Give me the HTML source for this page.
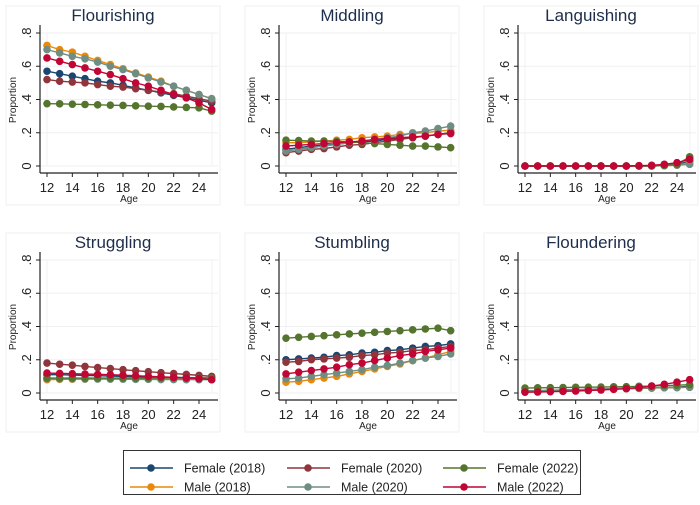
<!DOCTYPE html>
<html><head><meta charset="utf-8"><style>
body{margin:0;background:#fff;}
svg{display:block;font-family:"Liberation Sans",sans-serif;}
</style></head><body>
<svg id="c" width="700" height="505" viewBox="0 0 700 505"></svg>
<script>
const ages=[12,13,14,15,16,17,18,19,20,21,22,23,24,25];
const xTicks=[12,14,16,18,20,22,24];
const yTicks=[0,0.2,0.4,0.6,0.8];
const yTickLabels=["0",".2",".4",".6",".8"];
const panelTitles=["Flourishing","Middling","Languishing","Struggling","Stumbling","Floundering"];
const seriesNames=["Female (2018)","Male (2018)","Female (2020)","Male (2020)","Female (2022)","Male (2022)"];
const seriesColors=["#1a476f","#e8890c","#90353b","#6e8e84","#55752f","#c10534"];
const flourishing=[
[.57,.555,.54,.525,.51,.50,.485,.47,.455,.44,.425,.41,.395,.38],
[.725,.70,.685,.66,.635,.61,.585,.56,.535,.51,.48,.455,.43,.405],
[.52,.51,.505,.50,.49,.48,.475,.465,.455,.445,.435,.42,.405,.39],
[.70,.68,.66,.645,.625,.60,.58,.555,.53,.505,.48,.455,.43,.405],
[.375,.374,.372,.37,.368,.366,.364,.362,.36,.358,.355,.352,.35,.33],
[.65,.63,.61,.59,.57,.55,.525,.50,.48,.455,.43,.41,.38,.34]];
const middling=[
[.10,.11,.12,.125,.13,.14,.145,.15,.16,.165,.17,.18,.19,.20],
[.14,.14,.145,.15,.155,.16,.17,.175,.18,.19,.195,.20,.21,.215],
[.08,.09,.10,.105,.115,.125,.13,.14,.15,.16,.17,.18,.19,.20],
[.09,.10,.11,.12,.13,.14,.15,.16,.17,.18,.20,.21,.225,.24],
[.155,.153,.15,.15,.148,.145,.14,.135,.13,.125,.12,.12,.115,.11],
[.12,.125,.13,.135,.14,.145,.15,.16,.165,.17,.175,.18,.19,.195]];
const languishing=[
[0,0,0,0,0,0,0,0,0,0,0,.003,.008,.03],
[0,0,0,0,0,0,0,0,0,0,0,.002,.005,.02],
[0,0,0,0,0,0,0,0,0,0,0,.003,.01,.05],
[0,0,0,0,0,0,0,0,0,0,0,.002,.005,.01],
[0,0,0,0,0,0,0,0,0,0,.002,.004,.01,.055],
[0,0,0,0,0,0,0,0,0,.002,.004,.01,.02,.04]];
const struggling=[
[.11,.11,.108,.106,.104,.102,.10,.098,.096,.095,.094,.093,.092,.09],
[.08,.082,.083,.084,.085,.086,.087,.088,.089,.09,.09,.09,.09,.09],
[.18,.173,.167,.16,.153,.147,.14,.134,.128,.122,.117,.112,.106,.10],
[.085,.085,.085,.084,.084,.083,.083,.082,.082,.081,.081,.08,.08,.08],
[.09,.09,.09,.09,.09,.09,.09,.09,.09,.09,.09,.09,.09,.09],
[.12,.118,.116,.114,.112,.11,.107,.104,.10,.097,.094,.09,.086,.08]];
const stumbling=[
[.20,.205,.21,.215,.225,.23,.24,.245,.255,.26,.27,.28,.285,.295],
[.065,.07,.08,.09,.10,.115,.13,.145,.16,.175,.195,.21,.23,.25],
[.185,.19,.20,.205,.21,.215,.225,.23,.24,.245,.255,.26,.27,.28],
[.085,.09,.10,.11,.12,.13,.14,.155,.165,.18,.195,.21,.22,.235],
[.33,.335,.34,.345,.35,.355,.36,.365,.37,.375,.38,.385,.39,.375],
[.115,.125,.135,.145,.155,.17,.18,.195,.21,.225,.235,.25,.26,.27]];
const floundering=[
[.01,.012,.014,.016,.018,.02,.022,.024,.026,.028,.03,.033,.036,.04],
[.01,.012,.014,.016,.018,.02,.022,.024,.026,.028,.03,.032,.034,.035],
[.012,.014,.016,.018,.02,.022,.024,.026,.028,.03,.031,.032,.033,.035],
[.012,.014,.016,.018,.02,.022,.024,.026,.028,.03,.031,.032,.033,.035],
[.03,.031,.032,.033,.034,.035,.036,.037,.038,.04,.042,.044,.047,.05],
[.005,.006,.008,.01,.012,.015,.018,.022,.027,.033,.042,.052,.065,.08]];
const panelData=[flourishing,middling,languishing,struggling,stumbling,floundering];

const NS="http://www.w3.org/2000/svg";
const svg=document.getElementById('c');
function mk(tag,attrs,parent){const e=document.createElementNS(NS,tag);for(const k in attrs)e.setAttribute(k,attrs[k]);(parent||svg).appendChild(e);return e;}
const colOff=[0,239,478], rowOff=[0,227];
panelData.forEach((data,p)=>{
  const ox=colOff[p%3], oy=rowOff[Math.floor(p/3)];
  const xs=a=>ox+47+(a-12)*(152/12);
  const ys=v=>oy+166-v*(133/0.8);
  const g=mk('g',{});
  
  
  const fr=mk('rect',{x:ox+6,y:oy+6,width:214,height:199,fill:'none',stroke:'#eef0f2','stroke-width':1},g);
  
  const ib=mk('rect',{x:ox+47,y:ys(0.8),width:165,height:ys(0)-ys(0.8),fill:'none',stroke:'#f0f2f4','stroke-width':1},g);
  
  yTicks.forEach((t,i)=>{
    const gl=mk('line',{x1:ox+40,x2:ox+218,y1:ys(t),y2:ys(t),stroke:'#eef0f2','stroke-width':1},g);
    
    mk('line',{x1:ox+36,x2:ox+40,y1:ys(t),y2:ys(t),stroke:'#222','stroke-width':1},g);
    const tl=mk('text',{x:0,y:0,transform:`translate(${ox+31},${ys(t)}) rotate(-90)`,'text-anchor':'middle','font-size':13,fill:'#222'},g);
    tl.textContent=yTickLabels[i];
    
  });
  xTicks.forEach(t=>{
    mk('line',{x1:xs(t),x2:xs(t),y1:oy+173,y2:oy+177,stroke:'#222','stroke-width':1},g);
    const tl=mk('text',{x:xs(t),y:oy+192,'text-anchor':'middle','font-size':13,fill:'#222'},g);
    tl.textContent=t;
    
  });
  mk('line',{x1:ox+40,x2:ox+40,y1:oy+25,y2:oy+173,stroke:'#222','stroke-width':1.2},g);
  mk('line',{x1:ox+40,x2:ox+218,y1:oy+173,y2:oy+173,stroke:'#222','stroke-width':1.2},g);
  const t=mk('text',{x:ox+113,y:oy+21,'text-anchor':'middle','font-size':17,fill:'#1e2e4a'},g);
  t.textContent=panelTitles[p];
  
  const yl=mk('text',{x:0,y:0,transform:`translate(${ox+16},${oy+100}) rotate(-90)`,'text-anchor':'middle','font-size':10,fill:'#222'},g);
  yl.textContent='Proportion';
  
  const xl=mk('text',{x:ox+129,y:oy+202,'text-anchor':'middle','font-size':10,fill:'#222'},g);
  xl.textContent='Age';
  
  data.forEach((ser,s)=>{
    const pts=ser.map((v,i)=>xs(ages[i])+','+ys(v)).join(' ');
    const pl=mk('polyline',{points:pts,fill:'none',stroke:seriesColors[s],'stroke-width':1.4},g);
    
    ser.forEach((v,i)=>{
      const c=mk('circle',{cx:xs(ages[i]),cy:ys(v),r:3.8,fill:seriesColors[s]},g);
      
    });
  });
});
const lg=mk('g',{});

mk('rect',{x:123.5,y:450.5,width:457,height:44,fill:'#fff',stroke:'#333','stroke-width':1},lg);
const lx=[130,287,443], ly=[468,487];
seriesNames.forEach((n,s)=>{
  const cx=lx[Math.floor(s/2)], cy=ly[s%2];
  const e=mk('g',{},lg);
  
  mk('line',{x1:cx,x2:cx+43,y1:cy,y2:cy,stroke:seriesColors[s],'stroke-width':1.5},e);
  mk('circle',{cx:cx+21,cy:cy,r:3.8,fill:seriesColors[s]},e);
  const t=mk('text',{x:cx+54,y:cy+4.5,'font-size':12.5,fill:'#222'},e);
  t.textContent=n;
});
</script>
</body></html>
